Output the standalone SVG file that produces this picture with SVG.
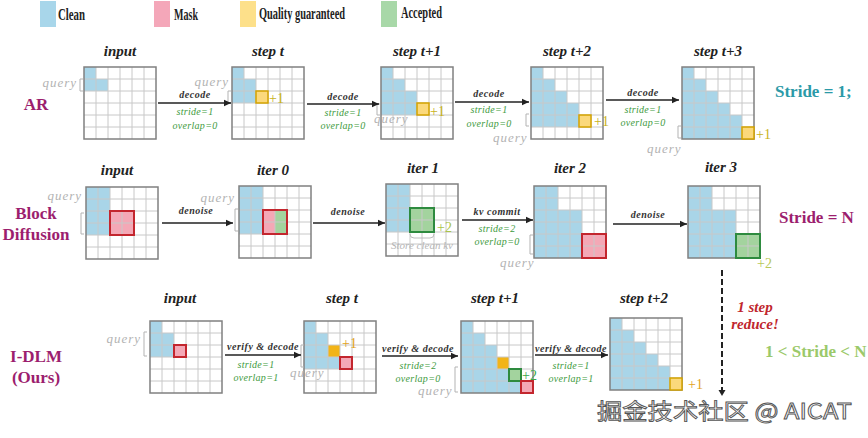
<svg xmlns="http://www.w3.org/2000/svg" xmlns:xlink="http://www.w3.org/1999/xlink" width="868" height="438" viewBox="0 0 868 438">
<style>
.ttl{font-family:"Liberation Serif",serif;font-weight:bold;font-style:italic;font-size:15px;fill:#222;text-anchor:middle}
.op{font-family:"Liberation Serif",serif;font-weight:bold;font-style:italic;font-size:10px;fill:#333;text-anchor:middle;letter-spacing:0.5px}
.pm{font-family:"Liberation Serif",serif;font-style:italic;font-size:10px;fill:#3e9b3e;text-anchor:middle;letter-spacing:0.3px}
.q{font-family:"Liberation Serif",serif;font-style:italic;font-size:13px;fill:#b3b3b3;letter-spacing:1px}
.qe{text-anchor:end}
.br{fill:none;stroke:#b3b3b3;stroke-width:1}
.row{font-family:"Liberation Serif",serif;font-weight:bold;font-size:17px;fill:#9c1e6e;text-anchor:middle}
.big{font-family:"Liberation Serif",serif;font-weight:bold;font-size:17px}
.leg{font-family:"Liberation Serif",serif;font-weight:bold;font-size:17px;fill:#222}
.clean{fill:#a9d5e8}
.bg{fill:#fff}
.ylw{fill:#fbd97c;stroke:#d4a300;stroke-width:1.5}
.org{fill:#f2b418}
.pk{fill:#f4a8b6}
.gf{fill:#a3d39e}
.box{fill:none;stroke:#c3262e;stroke-width:2}
.gbox{fill:none;stroke:#2e8b3f;stroke-width:2}
.p1{font-family:"Liberation Serif",serif;font-size:14px;fill:#c9b21a}
.arw{stroke:#222;stroke-width:1.3;fill:none;marker-end:url(#ah)}
</style>
<defs>
<marker id="ah" markerUnits="userSpaceOnUse" markerWidth="8" markerHeight="8" refX="7" refY="4" orient="auto"><path d="M0 0.8L7 4L0 7.2z" fill="#222"/></marker>
<marker id="ah2" markerUnits="userSpaceOnUse" markerWidth="8" markerHeight="8" refX="4" refY="7" orient="0"><path d="M0.5 1L4 7L7.5 1z" fill="#222"/></marker>
<g id="gl"><path d="M12 0V72M24 0V72M36 0V72M48 0V72M60 0V72M0 12H72M0 24H72M0 36H72M0 48H72M0 60H72" stroke="#c8c8c8" stroke-width="1" fill="none"/><rect x="0" y="0" width="72" height="72" fill="none" stroke="#808080" stroke-width="1.5"/></g>
</defs>
<rect width="868" height="438" fill="#fff"/>

<g id="legend">
<rect x="40" y="1" width="16" height="26" fill="#a8d6ea"/>
<text class="leg" x="58" y="20" textLength="27" lengthAdjust="spacingAndGlyphs">Clean</text>
<rect x="154" y="1" width="16" height="26" fill="#f4a7b9"/>
<text class="leg" x="174" y="19.5" textLength="24" lengthAdjust="spacingAndGlyphs">Mask</text>
<rect x="240" y="1" width="16" height="26" fill="#fde08a"/>
<text class="leg" x="259" y="19" textLength="86" lengthAdjust="spacingAndGlyphs">Quality guaranteed</text>
<rect x="381" y="1" width="16" height="26" fill="#a8d8a8"/>
<text class="leg" x="401" y="17.5" textLength="41" lengthAdjust="spacingAndGlyphs">Accepted</text>
</g>

<g id="row-labels">
<text class="row" x="36" y="110">AR</text>
<text class="row" x="36" y="219">Block</text>
<text class="row" x="36" y="240">Diffusion</text>
<text class="row" x="36" y="362">I-DLM</text>
<text class="row" x="36" y="383">(Ours)</text>
<text class="big" x="775" y="97" fill="#2c9aa8">Stride = 1;</text>
<text class="big" x="779" y="223" fill="#9c1e6e">Stride = N</text>
<text class="big" x="765" y="357" fill="#9bc96a">1 &lt; Stride &lt; N</text>
</g>

<!-- AR row -->
<g id="ar-input">
<text class="ttl" x="120" y="56">input</text>
<g transform="translate(84,67)"><rect class="bg" width="72" height="72"/><path class="clean" d="M0 0H12V12H24V24H0Z"/><use xlink:href="#gl"/></g>
<text class="q qe" x="77" y="87">query</text><path class="br" d="M83 79H80V91H83"/>
</g>
<g id="ar-step-t">
<text class="ttl" x="268" y="56">step t</text>
<g transform="translate(232,67)"><rect class="bg" width="72" height="72"/><path class="clean" d="M0 0H12V12H24V36H0Z"/><use xlink:href="#gl"/><rect class="ylw" x="24" y="24" width="12" height="12"/></g>
<text class="p1" x="269" y="103">+1</text>
<text class="q qe" x="229" y="86">query</text><path class="br" d="M231 91H228V103H231"/>
</g>
<g id="ar-step-t1">
<text class="ttl" x="417" y="56">step t+1</text>
<g transform="translate(381,67)"><rect class="bg" width="72" height="72"/><path class="clean" d="M0 0H12V12H24V24H36V48H0Z"/><use xlink:href="#gl"/><rect class="ylw" x="36" y="36" width="12" height="12"/></g>
<text class="p1" x="430" y="116">+1</text>
<text class="q" x="374" y="123">query</text><path class="br" d="M380 104H377V115H380"/>
</g>
<g id="ar-step-t2">
<text class="ttl" x="567" y="56">step t+2</text>
<g transform="translate(531,67)"><rect class="bg" width="72" height="72"/><path class="clean" d="M0 0H12V12H24V24H36V36H48V60H0Z"/><use xlink:href="#gl"/><rect class="ylw" x="48" y="48" width="12" height="12"/></g>
<text class="p1" x="594" y="126">+1</text>
<text class="q" x="493" y="142">query</text><path class="br" d="M529 114H526V126H529"/>
</g>
<g id="ar-step-t3">
<text class="ttl" x="718" y="56">step t+3</text>
<g transform="translate(682,67)"><rect class="bg" width="72" height="72"/><path class="clean" d="M0 0H12V12H24V24H36V36H48V48H60V72H0Z"/><use xlink:href="#gl"/><rect class="ylw" x="60" y="60" width="12" height="12"/></g>
<text class="p1" x="756" y="139">+1</text>
<text class="q" x="647" y="153">query</text><path class="br" d="M681 126H678V138H681"/>
</g>

<!-- Block diffusion row -->
<g id="bd-input">
<text class="ttl" x="117" y="175">input</text>
<g transform="translate(86,187)"><rect class="bg" width="72" height="72"/><path class="clean" d="M0 0H24V48H0Z"/><rect class="pk" x="24" y="24" width="24" height="24"/><use xlink:href="#gl"/><rect class="box" x="24" y="24" width="24" height="24"/></g>
<text class="q qe" x="82" y="200">query</text><path class="br" d="M84 213H81V234H84"/>
</g>
<g id="bd-iter0">
<text class="ttl" x="273" y="175">iter 0</text>
<g transform="translate(239,186)"><rect class="bg" width="72" height="72"/><path class="clean" d="M0 0H24V48H0Z"/><rect class="pk" x="24" y="24" width="12" height="24"/><rect class="gf" x="36" y="24" width="12" height="24"/><use xlink:href="#gl"/><rect class="box" x="24" y="24" width="24" height="24"/></g>
<text class="q qe" x="235" y="202">query</text><path class="br" d="M238 209H235V231H238"/>
</g>
<g id="bd-iter1">
<text class="ttl" x="423" y="173">iter 1</text>
<g transform="translate(386,184)"><rect class="bg" width="72" height="72"/><path class="clean" d="M0 0H24V48H0Z"/><rect class="gf" x="24" y="24" width="24" height="24"/><use xlink:href="#gl"/><rect class="gbox" x="24" y="24" width="24" height="24"/></g>
<text class="p1" x="437" y="232" style="fill:#a9c44a">+2</text>
<path d="M410 234q0 4 4 4h16q4 0 4-4" fill="none" stroke="#bdbdbd" stroke-width="1"/>
<text x="422" y="249" font-family="Liberation Serif, serif" font-style="italic" font-size="11" fill="#b5b5b5" text-anchor="middle">Store clean kv</text>
</g>
<g id="bd-iter2">
<text class="ttl" x="570" y="173">iter 2</text>
<g transform="translate(534,186)"><rect class="bg" width="72" height="72"/><path class="clean" d="M0 0H24V24H48V72H0Z"/><rect class="pk" x="48" y="48" width="24" height="24"/><use xlink:href="#gl"/><rect class="box" x="48" y="48" width="24" height="24"/></g>
<text class="q" x="500" y="267">query</text><path class="br" d="M533 235H530V254H533"/>
</g>
<g id="bd-iter3">
<text class="ttl" x="721" y="172">iter 3</text>
<g transform="translate(688,186)"><rect class="bg" width="72" height="72"/><path class="clean" d="M0 0H24V24H48V72H0Z"/><rect class="gf" x="48" y="48" width="24" height="24"/><use xlink:href="#gl"/><rect class="gbox" x="48" y="48" width="24" height="24"/></g>
<text class="p1" x="757" y="268" style="fill:#b8c85a">+2</text>
</g>

<!-- I-DLM row -->
<g id="idlm-input">
<text class="ttl" x="180" y="303">input</text>
<g transform="translate(150,321)"><rect class="bg" width="72" height="72"/><path class="clean" d="M0 0H12V12H24V36H0Z"/><rect class="pk" x="24" y="24" width="12" height="12"/><use xlink:href="#gl"/><rect class="box" x="24" y="24" width="12" height="12"/></g>
<text class="q qe" x="141" y="343">query</text><path class="br" d="M147 332H144V356H147"/>
</g>
<g id="idlm-step-t">
<text class="ttl" x="342" y="303">step t</text>
<g transform="translate(304,321)"><rect class="bg" width="72" height="72"/><path class="clean" d="M0 0H12V12H24V36H36V48H0Z"/><rect class="org" x="24" y="24" width="12" height="12"/><rect class="pk" x="36" y="36" width="12" height="12"/><use xlink:href="#gl"/><rect class="box" x="36" y="36" width="12" height="12"/></g>
<text class="p1" x="342" y="348" style="fill:#e3a21a">+1</text>
<text class="q" x="290" y="377">query</text><path class="br" d="M304 345H301V367H304"/>
</g>
<g id="idlm-step-t1">
<text class="ttl" x="495" y="303">step t+1</text>
<g transform="translate(461,321)"><rect class="bg" width="72" height="72"/><path class="clean" d="M0 0H12V12H24V24H36V48H48V60H60V72H0Z"/><rect class="org" x="36" y="36" width="12" height="12"/><rect class="gf" x="48" y="48" width="12" height="12"/><rect class="pk" x="60" y="60" width="12" height="12"/><use xlink:href="#gl"/><rect class="gbox" x="48" y="48" width="12" height="12"/><rect class="box" x="60" y="60" width="12" height="12"/></g>
<text class="p1" x="522" y="380" style="fill:#3aa84a">+2</text>
<text class="q" x="418" y="395">query</text><path class="br" d="M458 367H455V392H458"/>
</g>
<g id="idlm-step-t2">
<text class="ttl" x="644" y="303">step t+2</text>
<g transform="translate(610,318)"><rect class="bg" width="72" height="72"/><path class="clean" d="M0 0H12V12H24V24H36V36H48V48H60V72H0Z"/><use xlink:href="#gl"/><rect class="ylw" x="60" y="60" width="12" height="12"/></g>
<text class="p1" x="688" y="389" style="fill:#e3a21a">+1</text>
</g>

<g id="reduce-note">
<text x="755" y="312" font-family="Liberation Serif, serif" font-weight="bold" font-style="italic" font-size="15" fill="#c0262d" text-anchor="middle">1 step</text>
<text x="755" y="329" font-family="Liberation Serif, serif" font-weight="bold" font-style="italic" font-size="15" fill="#c0262d" text-anchor="middle">reduce!</text>
</g>

<g id="connectors">
<path class="arw" d="M158 103H231"/>
<text class="op" x="195" y="98">decode</text><text class="pm" x="195" y="115">stride=1</text><text class="pm" x="195" y="129">overlap=0</text>
<path class="arw" d="M307 104H379"/>
<text class="op" x="343" y="100">decode</text><text class="pm" x="343" y="116">stride=1</text><text class="pm" x="343" y="129">overlap=0</text>
<path class="arw" d="M455 102H529"/>
<text class="op" x="489" y="97">decode</text><text class="pm" x="489" y="113">stride=1</text><text class="pm" x="489" y="127">overlap=0</text>
<path class="arw" d="M606 100H679"/>
<text class="op" x="643" y="96">decode</text><text class="pm" x="643" y="113">stride=1</text><text class="pm" x="643" y="126">overlap=0</text>

<path class="arw" d="M162 223H233"/>
<text class="op" x="196" y="214">denoise</text>
<path class="arw" d="M313 223H385"/>
<text class="op" x="348" y="215">denoise</text>
<path class="arw" d="M462 220H533"/>
<text class="op" x="497" y="215">kv commit</text><text class="pm" x="497" y="232">stride=2</text><text class="pm" x="497" y="245">overlap=0</text>
<path class="arw" d="M613 224H687"/>
<text class="op" x="648" y="218">denoise</text>

<path class="arw" d="M225 355H301"/>
<text class="op" x="263" y="350">verify &amp; decode</text><text class="pm" x="256" y="368">stride=1</text><text class="pm" x="256" y="381">overlap=1</text>
<path class="arw" d="M382 356H458"/>
<text class="op" x="418" y="352">verify &amp; decode</text><text class="pm" x="418" y="369">stride=2</text><text class="pm" x="418" y="382">overlap=0</text>
<path class="arw" d="M535 355H608"/>
<text class="op" x="571" y="352">verify &amp; decode</text><text class="pm" x="571" y="369">stride=1</text><text class="pm" x="571" y="382">overlap=1</text>

<path d="M722 270V396" stroke="#222" stroke-width="2" stroke-dasharray="6 3" fill="none" marker-end="url(#ah2)"/>
</g>

<text x="597" y="419" font-family="Noto Sans CJK SC, sans-serif" font-size="22" fill="#fff" stroke="#555" stroke-width="0.9" textLength="255" lengthAdjust="spacingAndGlyphs">掘金技术社区 @ AICAT</text>
</svg>
